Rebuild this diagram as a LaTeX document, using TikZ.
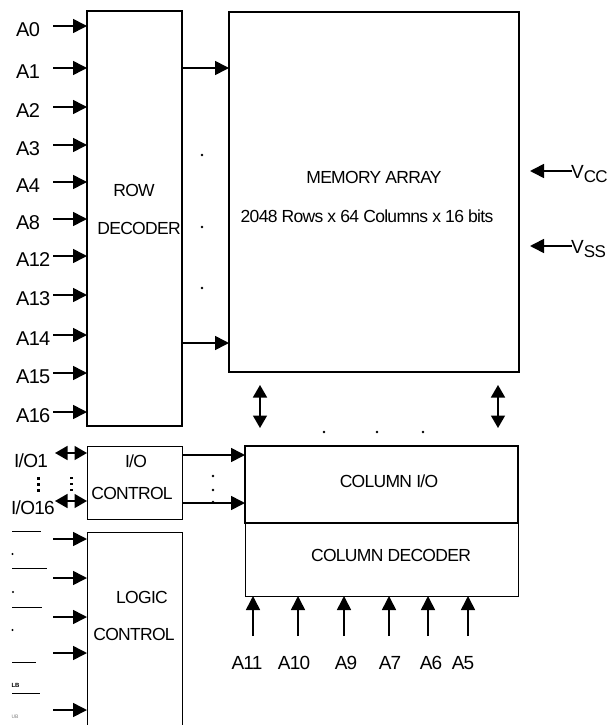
\documentclass[tikz,border=0pt]{standalone}
\usepackage{fontspec}
\setmainfont{Liberation Sans}[LetterSpace=-4]
\usetikzlibrary{arrows.meta}
\tikzset{
  x=1pt, y=-1pt,
  arr/.style={line width=1.6pt, -{Triangle[length=14pt,width=14pt]}},
  darr/.style={line width=1.6pt, {Triangle[length=12.5pt,width=14pt]}-{Triangle[length=12.5pt,width=14pt]}},
  thickbox/.style={draw, line width=2.4pt, rectangle, anchor=north west, inner sep=0pt, outer sep=0pt},
  thinbox/.style={draw, line width=0.9pt, rectangle, anchor=north west, inner sep=0pt, outer sep=0pt},
  lbl/.style={font=\fontsize{19}{20}\selectfont, inner sep=0pt},
  albl/.style={font=\fontsize{20}{20}\selectfont, inner sep=0pt, anchor=west},
  txt/.style={font=\fontsize{17.5}{18}\selectfont, inner sep=0pt},
  dotm/.style={circle, fill, inner sep=0pt, minimum size=2.8pt},
}
\begin{document}
\begin{tikzpicture}
\useasboundingbox (0,0) rectangle (612,725);
\begin{scope}
\clip (0,0) rectangle (612,725);
% boxes
\node[thickbox, minimum width=95pt, minimum height=415pt] (rd) at (87,11) {};
\node[thickbox, minimum width=290pt, minimum height=360pt] (ma) at (229,12) {};
\node[thinbox, minimum width=95pt, minimum height=73pt] (ioc) at (87,446) {};
\node[thinbox, minimum width=95pt, minimum height=200pt] (lc) at (87,532) {};
\node[thinbox, minimum width=273pt, minimum height=73pt] (cd) at (245,523) {};
\node[thickbox, minimum width=273pt, minimum height=77pt] (cio) at (245,446) {};

% box texts
\node[txt] (rowt) at (134,190) {ROW};
\node[txt] (dect) at (139,228) {DECODER};
\node[txt] (mat) at (374,177) {MEMORY ARRAY};
\node[txt] (mat2) at (367,216) {2048 Rows x 64 Columns x 16 bits};
\node[txt] (iot) at (136,461) {I/O};
\node[txt] (ioct) at (132,493) {CONTROL};
\node[txt] (logt) at (142,597) {LOGIC};
\node[txt] (lct) at (134,634) {CONTROL};
\node[txt] (ciot) at (389,481) {COLUMN I/O};
\node[txt] (cdt) at (391,555) {COLUMN DECODER};

% address inputs to row decoder
\foreach \n/\y in {A0/26,A1/68,A2/107,A3/145,A4/182,A8/219,A12/256,A13/295,A14/335,A15/373,A16/412}{
  \node[albl] (l\n) at (16,\y+4) {\n};
  \coordinate (s\n) at (53,\y);
  \draw[arr] (s\n) -- (s\n -| rd.west);
}

% row decoder outputs
\coordinate (ro1) at (182,68);
\coordinate (ro2) at (182,343);
\draw[arr] (ro1) -- (ro1 -| ma.west);
\draw[arr] (ro2) -- (ro2 -| ma.west);
\node[dotm] (rdd1) at (202,155) {};
\node[dotm] (rdd2) at (202,227) {};
\node[dotm] (rdd3) at (202,288) {};

% VCC / VSS
\coordinate (vcc) at (572,171);
\coordinate (vss) at (572,246);
\draw[arr] (vcc) -- ++(-42,0);
\draw[arr] (vss) -- ++(-42,0);
\node[lbl, anchor=west] (vccl) at (571,174) {V\raisebox{-4pt}{\fontsize{17}{17}\selectfont CC}};
\node[lbl, anchor=west] (vssl) at (571,249) {V\raisebox{-4pt}{\fontsize{17}{17}\selectfont SS}};

% memory <-> column I/O
\coordinate (m1) at (260,385);
\coordinate (m2) at (498,385);
\draw[darr] (m1) -- (m1 |- 0,428);
\draw[darr] (m2) -- (m2 |- 0,428);
\node[dotm] (cd1) at (324,432) {};
\node[dotm] (cd2) at (377,432) {};
\node[dotm] (cd3) at (423,432) {};

% I/O control to column I/O
\coordinate (io1) at (182,455);
\coordinate (io2) at (182,503);
\draw[arr] (io1) -- (io1 -| cio.west);
\draw[arr] (io2) -- (io2 -| cio.west);
\node[dotm] (iod1) at (213,476) {};
\node[dotm] (iod2) at (213,490) {};
\node[dotm] (iod3) at (213,502) {};

% I/O pins
\node[lbl, anchor=west] (io1l) at (14,461) {I/O1};
\node[lbl, anchor=west] (io16l) at (11,508) {I/O16};
\coordinate (p1) at (55,453);
\coordinate (p2) at (55,501);
\draw[darr] (p1) -- (p1 -| ioc.west);
\draw[darr] (p2) -- (p2 -| ioc.west);
\foreach \yy in {478,484,490}{
  \fill (36.5,\yy-1.5) rectangle (39.5,\yy+1.5);
  \fill (70,\yy-1.2) rectangle (72.5,\yy+1.2);
}

% logic control inputs
\foreach \i/\y in {1/539,2/578,3/617,4/653,5/710}{
  \coordinate (lc\i) at (53,\y);
  \draw[arr] (lc\i) -- (lc\i -| lc.west);
}
\draw[line width=1pt] (12,531) -- (41,531);
\draw[line width=1pt] (12,568) -- (47,568);
\draw[line width=1pt] (12,607) -- (42,607);
\draw[line width=1pt] (12,662) -- (36,662);
\draw[line width=1pt] (12,693) -- (40,693);
\node[dotm, minimum size=2.2pt] (ld1) at (12.5,554) {};
\node[dotm, minimum size=2.2pt] (ld2) at (13,592) {};
\node[dotm, minimum size=2.2pt] (ld3) at (12.5,630) {};
\node[inner sep=0pt, anchor=west, font=\fontsize{6}{6}\selectfont\bfseries] (lb) at (11.5,685) {LB};
\node[inner sep=0pt, anchor=west, font=\fontsize{5}{5}\selectfont, text=gray] (ub) at (11.5,717) {UB};

% column decoder address inputs
\foreach \n/\x/\lx in {A11/253/247,A10/298/294,A9/344/346,A7/389/390,A6/428/431,A5/468/463}{
  \coordinate (c\n) at (\x,636);
  \draw[arr] (c\n) -- (c\n |- cd.south);
  \node[lbl] (cl\n) at (\lx,663) {\n};
}
\end{scope}
\end{tikzpicture}
\end{document}
